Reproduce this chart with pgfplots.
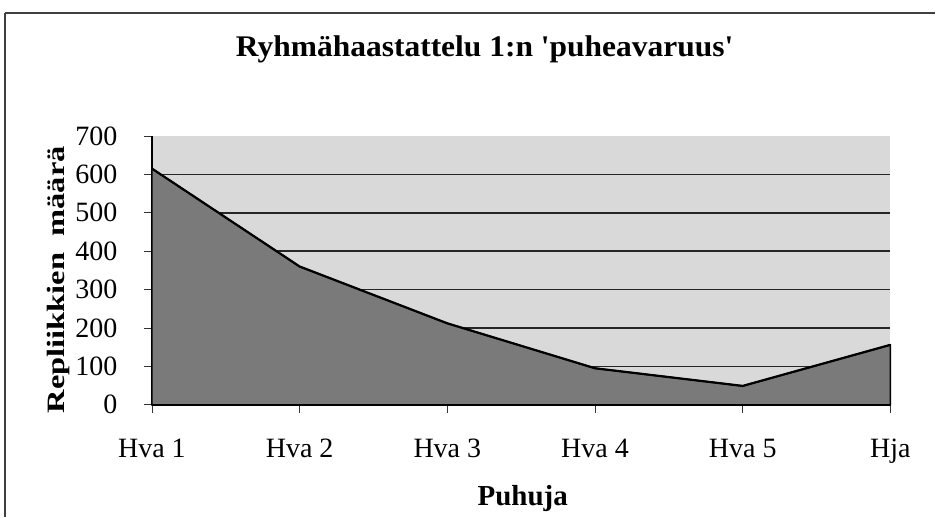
\documentclass[border=0pt]{standalone}
\usepackage{fontspec}
\setmainfont{Liberation Serif}[Ligatures=TeXOff]
\usepackage{graphicx}
\usepackage{pgfplots}
\pgfplotsset{compat=1.18}
\begin{document}
\begin{tikzpicture}[x=1pt,y=1pt]
\path (0,0) rectangle (936,-517);
\draw[line width=1.2pt, black!75] (5,-13) -- (936,-13);
\draw[line width=1.2pt, black!75] (5,-13) -- (5,-517);
\node[font=\fontsize{30}{32}\selectfont\bfseries, anchor=base] at (485,-57) {\scalebox{1.05}[1]{Ryhmähaastattelu 1:n 'puheavaruus'}};
\node[font=\fontsize{29}{31}\selectfont\bfseries, anchor=base] at (523,-506) {Puhuja};
\node[font=\fontsize{25}{27}\selectfont\bfseries, rotate=90, anchor=base] at (65,-280) {\scalebox{1.3}[1]{Repliikkien\ \ määrä}};
\begin{axis}[
  at={(152pt,-405pt)}, anchor=south west,
  scale only axis, width=739pt, height=269pt,
  xmin=0, xmax=5, ymin=0, ymax=700,
  axis x line*=bottom, axis y line*=left,
  axis line style={line width=1.5pt, black},
  axis background/.style={fill=black!15},
  xtick={0,1,2,3,4,5},
  xticklabels={Hva 1,Hva 2,Hva 3,Hva 4,Hva 5,Hja},
  ytick={0,100,...,700},
  tick align=outside, major tick length=8pt,
  tick style={line width=0.8pt, black!80},
  /pgf/number format/assume math mode=true,
  ticklabel style={font=\fontsize{28}{30}\selectfont},
  xticklabel style={anchor=base, yshift=-45pt},
  yticklabel style={anchor=east, xshift=-23pt},
  clip=false,
]
\pgfplotsinvokeforeach{100,200,...,600}{
  \draw[line width=1.6pt, black!85] (axis cs:0,#1) -- (axis cs:5,#1);
}
\addplot[fill=black!52, draw=black, line width=1.5pt] coordinates {
  (0,615) (1,360) (2,212) (3,95) (4,49) (5,156)
} \closedcycle;
\addplot[black, line width=2.2pt] coordinates {
  (0,615) (1,360) (2,212) (3,95) (4,49) (5,156)
};
\end{axis}
\end{tikzpicture}
\end{document}
